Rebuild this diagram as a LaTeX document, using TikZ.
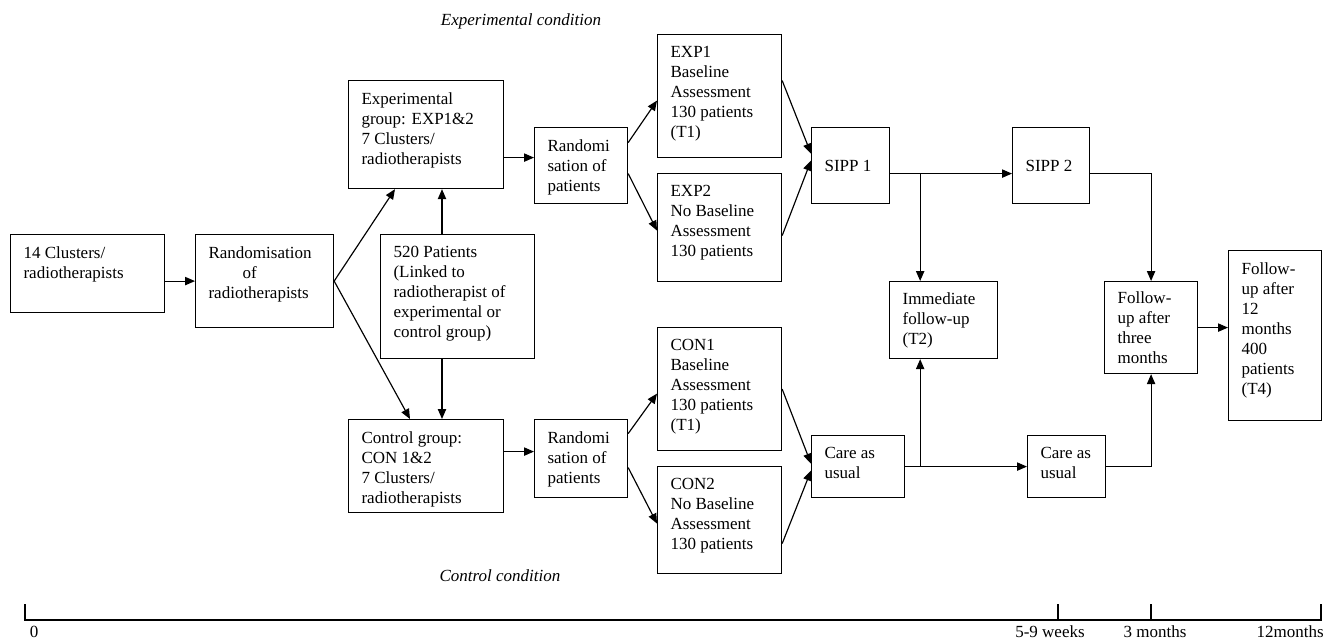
\documentclass[tikz,border=0pt]{standalone}
\usepackage{fontspec}
\setmainfont{Liberation Serif}
\usetikzlibrary{arrows.meta,calc,positioning}
\newdimen\pxu
\pxu=0.6pt
\newcommand{\celltext}[4][t]{\parbox[c][\dimexpr#3\pxu-14.4pt\relax][#1]{\dimexpr#2\pxu-15.6pt\relax}{\raggedright #4}}

\begin{document}
\begin{tikzpicture}[x=0.6pt,y=-0.6pt,
	box/.style={draw,line width=0.7pt,anchor=north west,inner xsep=7.8pt,inner ysep=7.2pt,font=\fontsize{10.2}{12}\selectfont},
	arr/.style={line width=0.7pt,-{Triangle[length=6pt,width=5pt]}},
	axis/.style={line width=0.7pt},
	lbl/.style={font=\fontsize{10.2}{12}\selectfont}]
	\useasboundingbox (0,0) rectangle (1325,640);

	\node[box] (clusters) at (10,234) {\celltext{154}{78}{14 Clusters/\\radiotherapists}};
	\node[box] (randrt) at (195,234) {\celltext{138}{93}{Randomisation\\\hspace*{20.4pt}of\\radiotherapists}};
	\node[box] (expgrp) at (348,80) {\celltext{155}{108}{Experimental\\group: EXP1\&2\\7 Clusters/\\radiotherapists}};
	\node[box] (patients) at (380,234) {\celltext{154}{124}{520 Patients\\(Linked to\\radiotherapist of\\experimental or\\control group)}};
	\node[box] (congrp) at (348,419) {\celltext{155}{93}{Control group:\\CON 1\&2\\7 Clusters/\\radiotherapists}};
	\node[box] (randexp) at (534,127) {\celltext{93}{76}{Randomi\\sation of\\patients}};
	\node[box] (randcon) at (534,419) {\celltext{93}{78}{Randomi\\sation of\\patients}};
	\node[box] (exp1) at (657,34) {\celltext{124}{123}{EXP1\\Baseline\\Assessment\\130 patients\\(T1)}};
	\node[box] (exp2) at (657,173) {\celltext{124}{108}{EXP2\\No Baseline\\Assessment\\130 patients}};
	\node[box] (con1) at (657,327) {\celltext{124}{123}{CON1\\Baseline\\Assessment\\130 patients\\(T1)}};
	\node[box] (con2) at (657,466) {\celltext{124}{107}{CON2\\No Baseline\\Assessment\\130 patients}};
	\node[box] (sipp1) at (811,127) {\celltext[c]{78}{76}{SIPP 1}};
	\node[box] (care1) at (811,435) {\celltext{93}{62}{Care as\\usual}};
	\node[box] (immfu) at (889,281) {\celltext[c]{108}{77}{Immediate\\follow-up\\(T2)}};
	\node[box] (sipp2) at (1012,127) {\celltext[c]{77}{76}{SIPP 2}};
	\node[box] (care2) at (1027,435) {\celltext{78}{62}{Care as\\usual}};
	\node[box] (fu3) at (1104,281) {\celltext[c]{93}{92}{Follow-\\up after\\three\\months}};
	\node[box] (fu12) at (1228,250) {\celltext{93}{170}{Follow-\\up after\\12\\months\\400\\patients\\(T4)}};

	\node[lbl,font=\fontsize{10.2}{12}\selectfont\itshape] (expcond) at (521,21) {Experimental condition};
	\node[lbl,font=\fontsize{10.2}{12}\selectfont\itshape] (concond) at (500,576) {Control condition};

	% randomisation of radiotherapists
	\draw[arr] (clusters.east |- randrt.west) -- (randrt.west);
	\draw[arr] (randrt.east) -- ($(expgrp.south west)+(47,0)$);
	\draw[arr] (randrt.east) -- ($(congrp.north west)+(62,0)$);
	\coordinate (pup) at ($(patients.north west)+(62,0)$);
	\draw[arr] (pup) -- (pup |- expgrp.south);
	\draw[arr] (pup |- patients.south) -- (pup |- congrp.north);

	% randomisation of patients
	\coordinate (ein) at ($(randexp.west)+(0,-8)$);
	\coordinate (cin) at ($(randcon.west)+(0,-7)$);
	\draw[arr] (expgrp.east |- ein) -- (ein);
	\draw[arr] (congrp.east |- cin) -- (cin);
	\draw[arr] ($(randexp.east)+(0,-23)$) -- ($(exp1.west)+(0,4.5)$);
	\draw[arr] ($(randexp.east)+(0,8)$) -- ($(exp2.west)+(0,3)$);
	\draw[arr] ($(randcon.east)+(0,-25)$) -- ($(con1.west)+(0,4.5)$);
	\draw[arr] ($(randcon.east)+(0,9)$) -- ($(con2.west)+(0,3.5)$);
	\draw[arr] ($(exp1.east)+(0,-15.5)$) -- ($(sipp1.west)+(0,-12)$);
	\draw[arr] ($(exp2.east)+(0,8)$) -- ($(sipp1.west)+(0,-5)$);
	\draw[arr] (con1.east) -- ($(care1.west)+(0,-3)$);
	\draw[arr] ($(con2.east)+(0,23.5)$) -- ($(care1.west)+(0,4)$);

	% follow-up
	\coordinate (sout) at ($(sipp1.east)+(0,8)$);
	\coordinate (sbr) at ($(sipp1.east)+(30,8)$);
	\draw[arr] (sout) -- (sout -| sipp2.west);
	\draw[arr] (sbr) -- (sbr |- immfu.north);
	\draw[arr] (care1.east) -- (care2.west);
	\draw[arr] (sbr |- care1.east) -- (sbr |- immfu.south);
	\draw[arr] ($(sipp2.east)+(0,8)$) -| (fu3.north);
	\draw[arr] (care2.east) -| (fu3.south);
	\draw[arr] (fu3.east) -- (fu3.east -| fu12.west);

	% time axis
	\draw[axis] (25,604) -- (25,620) -- (1321,620) -- (1321,604);
	\foreach \t in {1058,1151}
	\draw[axis] (\t,604) -- (\t,620);
	\node[lbl,anchor=base] (t0) at (34,637) {0};
	\node[lbl,anchor=base] (t1) at (1050,637) {5-9 weeks};
	\node[lbl,anchor=base] (t2) at (1155,637) {3 months};
	\node[lbl,anchor=base east,inner xsep=0pt] (t3) at (1324,637) {12months};
\end{tikzpicture}
\end{document}
